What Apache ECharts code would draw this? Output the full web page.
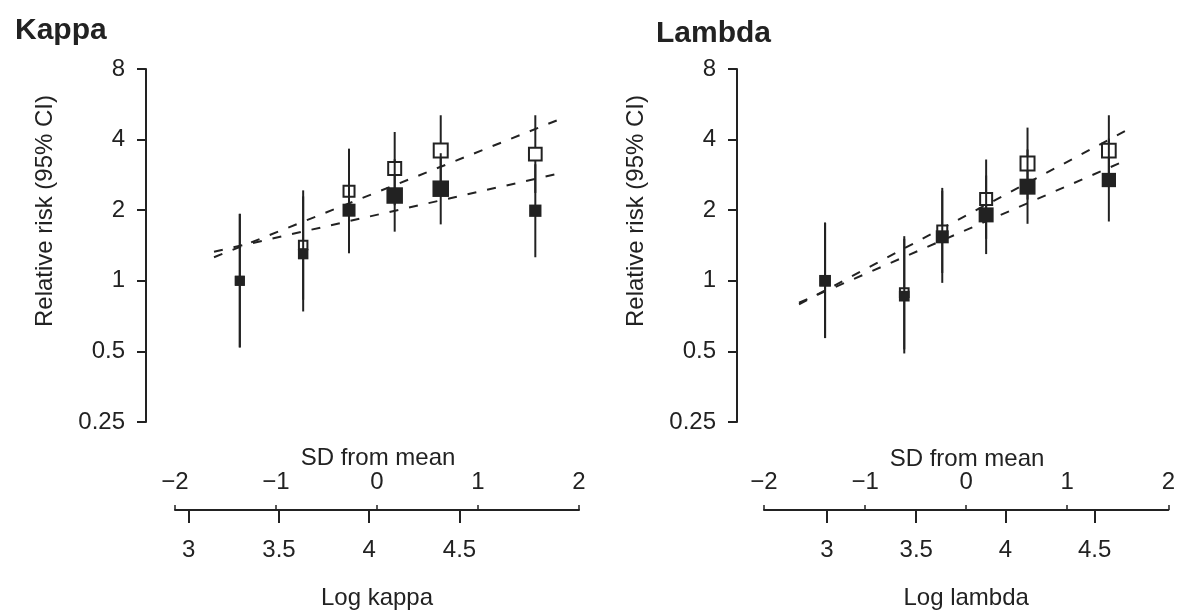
<!DOCTYPE html>
<html>
<head>
<meta charset="utf-8">
<script src="https://cdn.jsdelivr.net/npm/echarts@6/dist/echarts.min.js"></script>
<style>
html,body{margin:0;padding:0;background:#fff;}
#chart{width:1178px;height:616px;}
</style>
</head>
<body>
<div id="chart"></div>
<script>
// ---------------- DATA ----------------
const rrTicks = [0.25, 0.5, 1, 2, 4, 8];
const sdTicks = [-2, -1, 0, 1, 2];
const logTicks = [3, 3.5, 4, 4.5];

// Kappa panel (x = log kappa)
const kappaMean = 4.043, kappaSD = 0.5595;
const kappaX        = [3.283, 3.634, 3.888, 4.141, 4.396, 4.920];
const kappaOpenRR   = [1.00, 1.42, 2.41, 3.01, 3.59, 3.47];
const kappaOpenLo   = [0.52, 0.83, 1.58, 2.10, 2.54, 2.37];
const kappaOpenHi   = [1.93, 2.43, 3.66, 4.31, 5.08, 5.08];
const kappaFilledRR = [1.00, 1.30, 2.00, 2.31, 2.47, 1.99];
const kappaFilledLo = [0.52, 0.74, 1.31, 1.62, 1.74, 1.26];
const kappaFilledHi = [1.93, 2.29, 3.08, 3.30, 3.50, 3.14];
const kappaOpenFitX = [3.14, 5.054],  kappaOpenFitRR = [1.26, 4.88];
const kappaFilledFitX = [3.14, 5.054], kappaFilledFitRR = [1.33, 2.87];

// Lambda panel (x = log lambda)
const lambdaMean = 3.780, lambdaSD = 0.5667;
const lambdaX        = [2.989, 3.433, 3.646, 3.892, 4.124, 4.580];
const lambdaOpenRR   = [1.00, 0.89, 1.64, 2.23, 3.16, 3.59];
const lambdaOpenLo   = [0.57, 0.51, 1.08, 1.51, 2.22, 2.54];
const lambdaOpenHi   = [1.77, 1.55, 2.49, 3.29, 4.50, 5.08];
const lambdaFilledRR = [1.00, 0.86, 1.54, 1.91, 2.52, 2.69];
const lambdaFilledLo = [0.57, 0.49, 0.98, 1.30, 1.75, 1.79];
const lambdaFilledHi = [1.77, 1.51, 2.42, 2.81, 3.63, 4.04];
const lambdaOpenFitX = [2.843, 4.724],  lambdaOpenFitRR = [0.794, 4.57];
const lambdaFilledFitX = [2.843, 4.687], lambdaFilledFitRR = [0.806, 3.29];

// ---------------- STYLE ----------------
const INK = '#222';
const FONT = '"Liberation Sans", Arial, Helvetica, sans-serif';
const kappaOpenSize   = [8, 8.5, 11, 13, 14, 12.7];
const kappaFilledSize = [10, 10.5, 13, 16.5, 16.5, 12.3];
const lambdaOpenSize   = [9, 8.7, 10, 12, 14, 13.7];
const lambdaFilledSize = [11.7, 10.7, 13, 15, 16, 14.3];

function zip(a, b) { return a.map((v, i) => [v, b[i]]); }
function zip3(a, b, c) { return a.map((v, i) => [v, b[i], c[i]]); }
function fmtNum(v) { const n = +(+v).toPrecision(6); return n < 0 ? '\u2212' + Math.abs(n) : String(n); }

function ciRender(params, api) {
  const x = api.value(0), lo = api.value(1), hi = api.value(2);
  const p1 = api.coord([x, lo]), p2 = api.coord([x, hi]);
  return { type: 'line', shape: { x1: p1[0], y1: p1[1], x2: p2[0], y2: p2[1] },
           style: { stroke: INK, lineWidth: 2 } };
}

function panelSeries(xi, yi, X, oRR, oLo, oHi, fRR, fLo, fHi, oFitX, oFitRR, fFitX, fFitRR, oSize, fSize) {
  const dashed = { color: INK, width: 2, type: [9, 11] };
  return [
    { type: 'line', xAxisIndex: xi, yAxisIndex: yi, data: zip(oFitX, oFitRR), showSymbol: false, symbol: 'none', lineStyle: dashed, z: 1 },
    { type: 'line', xAxisIndex: xi, yAxisIndex: yi, data: zip(fFitX, fFitRR), showSymbol: false, symbol: 'none', lineStyle: dashed, z: 1 },
    { type: 'custom', xAxisIndex: xi, yAxisIndex: yi, renderItem: ciRender, data: zip3(X, oLo, oHi), encode: { x: 0, y: [1, 2] }, z: 2 },
    { type: 'scatter', xAxisIndex: xi, yAxisIndex: yi, data: zip(X, oRR), symbol: 'rect',
      symbolSize: (v, p) => oSize[p.dataIndex],
      itemStyle: { color: '#fff', borderColor: INK, borderWidth: 2, opacity: 1 }, z: 3 },
    { type: 'custom', xAxisIndex: xi, yAxisIndex: yi, renderItem: ciRender, data: zip3(X, fLo, fHi), encode: { x: 0, y: [1, 2] }, z: 4 },
    { type: 'scatter', xAxisIndex: xi, yAxisIndex: yi, data: zip(X, fRR), symbol: 'rect',
      symbolSize: (v, p) => fSize[p.dataIndex],
      itemStyle: { color: INK, opacity: 1 }, z: 5 }
  ];
}

function sdAxis(gi) {
  return { gridIndex: gi, type: 'value', position: 'bottom', offset: 88,
    min: sdTicks[0], max: sdTicks[sdTicks.length - 1], interval: 1,
    axisLine: { show: true, onZero: false, lineStyle: { color: INK, width: 2 } },
    axisTick: { show: true, inside: true, length: 5, lineStyle: { color: INK, width: 1.5 } },
    axisLabel: { inside: true, margin: 16, color: INK, fontSize: 24, fontFamily: FONT, formatter: fmtNum, showMinLabel: true, showMaxLabel: true, hideOverlap: false },
    splitLine: { show: false } };
}
function logAxis(gi, mean, sd, name) {
  return { gridIndex: gi, type: 'value', position: 'bottom', offset: 88,
    min: mean - 2 * sd, max: mean + 2 * sd,
    name: name, nameLocation: 'middle', nameGap: 76,
    nameTextStyle: { color: INK, fontSize: 24, fontFamily: FONT },
    axisLine: { show: false, onZero: false },
    axisTick: { show: true, inside: false, length: 13, customValues: logTicks, lineStyle: { color: INK, width: 2 } },
    axisLabel: { margin: 28, color: INK, fontSize: 24, fontFamily: FONT, customValues: logTicks, formatter: fmtNum },
    splitLine: { show: false } };
}
function rrAxis(gi, off) {
  return { gridIndex: gi, type: 'log', logBase: 2, min: rrTicks[0], max: rrTicks[rrTicks.length - 1],
    position: 'left', offset: off,
    axisLine: { show: true, onZero: false, lineStyle: { color: INK, width: 2 } },
    axisTick: { show: true, inside: false, length: 9, customValues: rrTicks, lineStyle: { color: INK, width: 2 } },
    axisLabel: { margin: 21, color: INK, fontSize: 24, fontFamily: FONT, customValues: rrTicks, formatter: fmtNum },
    splitLine: { show: false } };
}

const chart = echarts.init(document.getElementById('chart'), null, { renderer: 'canvas' });
const option = {
  animation: false,
  backgroundColor: '#fff',
  title: [
    { text: 'Kappa', left: 10, top: 11, textStyle: { fontSize: 30, fontWeight: 'bold', color: INK, fontFamily: FONT } },
    { text: 'Lambda', left: 651, top: 14, textStyle: { fontSize: 30, fontWeight: 'bold', color: INK, fontFamily: FONT } }
  ],
  grid: [
    { left: 175, top: 69, width: 404, height: 353, containLabel: false },
    { left: 764, top: 69, width: 405, height: 353, containLabel: false }
  ],
  xAxis: [
    sdAxis(0), logAxis(0, kappaMean, kappaSD, 'Log kappa'),
    sdAxis(1), logAxis(1, lambdaMean, lambdaSD, 'Log lambda')
  ],
  yAxis: [ rrAxis(0, 29), rrAxis(1, 27) ],
  graphic: [
    { type: 'text', x: 45, y: 211, rotation: Math.PI / 2,
      style: { text: 'Relative risk (95% CI)', font: '24px ' + FONT, fill: INK, align: 'center', verticalAlign: 'middle', textAlign: 'center', textVerticalAlign: 'middle' } },
    { type: 'text', x: 636, y: 211, rotation: Math.PI / 2,
      style: { text: 'Relative risk (95% CI)', font: '24px ' + FONT, fill: INK, align: 'center', verticalAlign: 'middle', textAlign: 'center', textVerticalAlign: 'middle' } },
    { type: 'text', x: 378, y: 458,
      style: { text: 'SD from mean', font: '24px ' + FONT, fill: INK, align: 'center', verticalAlign: 'middle', textAlign: 'center', textVerticalAlign: 'middle' } },
    { type: 'text', x: 967, y: 459,
      style: { text: 'SD from mean', font: '24px ' + FONT, fill: INK, align: 'center', verticalAlign: 'middle', textAlign: 'center', textVerticalAlign: 'middle' } }
  ],
  series: [].concat(
    panelSeries(1, 0, kappaX, kappaOpenRR, kappaOpenLo, kappaOpenHi, kappaFilledRR, kappaFilledLo, kappaFilledHi,
                kappaOpenFitX, kappaOpenFitRR, kappaFilledFitX, kappaFilledFitRR, kappaOpenSize, kappaFilledSize),
    panelSeries(3, 1, lambdaX, lambdaOpenRR, lambdaOpenLo, lambdaOpenHi, lambdaFilledRR, lambdaFilledLo, lambdaFilledHi,
                lambdaOpenFitX, lambdaOpenFitRR, lambdaFilledFitX, lambdaFilledFitRR, lambdaOpenSize, lambdaFilledSize)
  )
};
chart.setOption(option);
</script>
</body>
</html>
